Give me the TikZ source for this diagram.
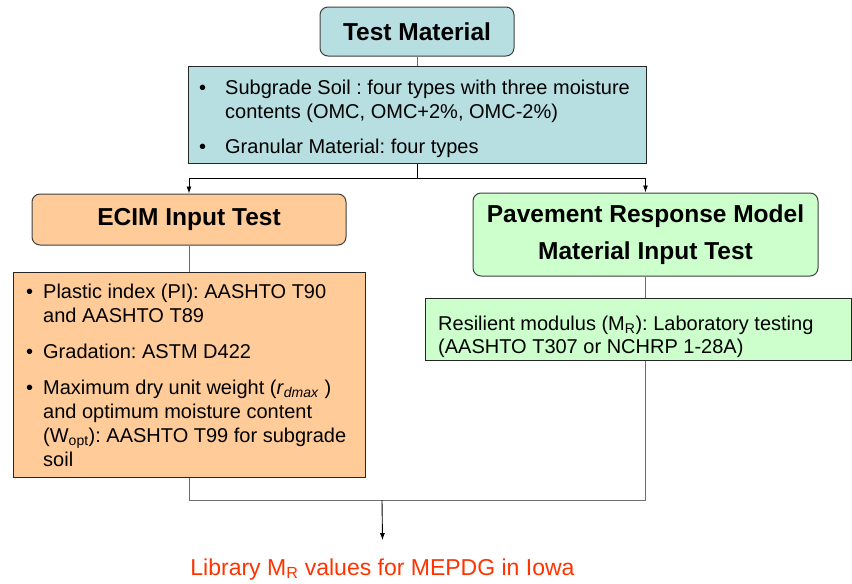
\documentclass[tikz,border=0pt]{standalone}
\usepackage{fontspec}
\setmainfont{Liberation Sans}
\usetikzlibrary{arrows.meta}
\definecolor{teal1}{HTML}{B7DEE1}
\definecolor{orng}{HTML}{FFCC99}
\definecolor{grn}{HTML}{CCFFCC}
\definecolor{redtxt}{HTML}{FF3300}
\definecolor{conn}{HTML}{6E6E6E}
\frenchspacing
\begin{document}
\begin{tikzpicture}[x=1pt,y=-1pt,
  hdr/.style={draw=black!75, rounded corners=8pt, line width=1pt, inner sep=0pt,
    font=\fontsize{24.5}{37}\selectfont\bfseries, align=center},
  listbox/.style={draw=black!85, line width=1pt, inner sep=0pt},
  body/.style={anchor=base west, inner sep=0pt, font=\fontsize{20}{24}\selectfont},
  link/.style={draw=conn, line width=1pt},
  arr/.style={draw=black, line width=0.9pt, -{Latex[length=7pt,width=5pt]}}]
\useasboundingbox (0,0) rectangle (852,584);

% boxes
\node[hdr, fill=teal1, minimum width=194pt, minimum height=49pt] (tm) at (417,31.5) {Test Material};
\node[listbox, fill=teal1, minimum width=458pt, minimum height=97pt] (tl) at (417,114.5) {};
\node[hdr, fill=orng, minimum width=314pt, minimum height=51pt] (oh) at (189,219.5) {ECIM Input Test};
\node[hdr, fill=grn, minimum width=345pt, minimum height=83pt] (gh) at (645.5,234.5) {Pavement Response Model\\Material Input Test};
\node[listbox, fill=orng, minimum width=352pt, minimum height=205pt] (ol) at (189,374.5) {};
\node[listbox, fill=grn, minimum width=426pt, minimum height=62pt] (gl) at (638.5,329) {};

% texts
\node[body] (tlt) at (199,94) {\begin{tabular}[t]{@{}p{26pt}@{}l@{}}
\textbullet & Subgrade Soil : four types with three moisture\\
 & contents (OMC, OMC+2\%, OMC-2\%)\\[11pt]
\textbullet & Granular Material: four types
\end{tabular}};

\node[body] (olt) at (26,298) {\begin{tabular}[t]{@{}p{17pt}@{}l@{}}
\textbullet & Plastic index (PI): AASHTO T90\\
 & and AASHTO T89\\[12pt]
\textbullet & Gradation: ASTM D422\\[12pt]
\textbullet & Maximum dry unit weight (\textit{r}\textsubscript{\textit{dmax}} )\\
 & and optimum moisture content\\
 & (W\textsubscript{opt}): AASHTO T99 for subgrade\\
 & soil
\end{tabular}};

\node[body] (glt) at (438,330) {\begin{tabular}[t]{@{}l@{}}
Resilient modulus (M\textsubscript{R}): Laboratory testing\\[-1pt]
(AASHTO T307 or NCHRP 1-28A)
\end{tabular}};

\node[anchor=base, inner sep=0pt, text=redtxt, font=\fontsize{23}{27}\selectfont] (lib) at (382.5,575) {Library M\textsubscript{R} values for MEPDG in Iowa};

% connectors
\coordinate (split) at (417,178);
\coordinate (join) at (382,500);
\draw[link] (tm.south) -- (tl.north);
\draw[black, line width=1pt] (tl.south) -- (split);
\draw[arr] (split) -| (oh.north);
\draw[arr] (split) -| (gh.north);
\draw[link] (oh.south) -- (ol.north);
\draw[link] (gh.south) -- (gh.south |- gl.north);
\draw[link] (ol.south) |- (join);
\draw[link] (gl.south -| gh.south) |- (join);
\draw[arr] (join) -- ([yshift=18pt]lib.north);
\end{tikzpicture}
\end{document}
